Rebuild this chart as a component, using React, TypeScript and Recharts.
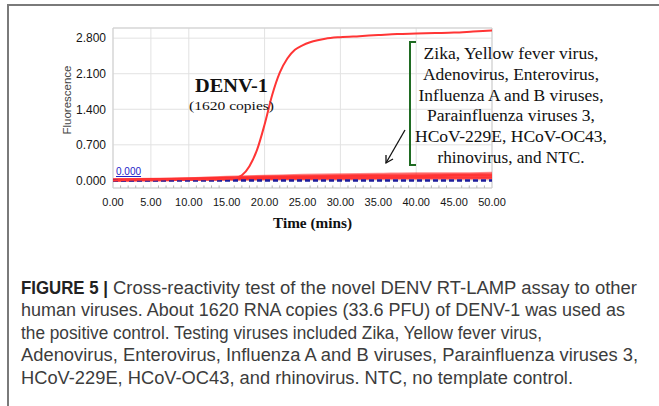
import { LineChart, Line, XAxis, YAxis, CartesianGrid, ReferenceArea, ReferenceLine } from 'recharts';

// DENV-1 positive control (1620 copies)
const denvTimes = [0, 2.5, 5, 7.5, 10, 12.5, 15, 16, 17, 18, 19, 20, 21, 22, 23, 24, 25, 26, 27, 28, 30, 32.5, 35, 37.5, 40, 42.5, 45, 47.5, 50];
const denvValues = [0.0, 0.01, 0.01, 0.02, 0.02, 0.02, 0.03, 0.04, 0.1, 0.28, 0.6, 1.1, 1.68, 2.12, 2.4, 2.57, 2.66, 2.72, 2.76, 2.79, 2.82, 2.84, 2.86, 2.88, 2.89, 2.9, 2.91, 2.93, 2.95];

// negative samples (other viruses + NTC)
const negTimes = [0, 5, 10, 15, 20, 25, 30, 35, 40, 45, 50];
const negZika = [0.0, 0.01, 0.02, 0.03, 0.04, 0.05, 0.05, 0.06, 0.06, 0.07, 0.07];
const negYellowFever = [0.01, 0.02, 0.03, 0.05, 0.06, 0.07, 0.08, 0.09, 0.09, 0.1, 0.1];
const negAdeno = [0.02, 0.03, 0.04, 0.06, 0.08, 0.09, 0.1, 0.11, 0.12, 0.12, 0.13];
const negEntero = [0.0, 0.0, 0.01, 0.02, 0.03, 0.03, 0.04, 0.04, 0.05, 0.05, 0.05];
const negFluA = [0.01, 0.02, 0.04, 0.07, 0.09, 0.11, 0.12, 0.13, 0.14, 0.14, 0.15];
const negFluB = [0.0, 0.01, 0.02, 0.04, 0.05, 0.06, 0.07, 0.08, 0.08, 0.09, 0.09];
const negParaflu3 = [0.01, 0.01, 0.02, 0.03, 0.04, 0.04, 0.05, 0.05, 0.06, 0.06, 0.06];
const neg229E = [0.02, 0.02, 0.03, 0.05, 0.07, 0.08, 0.09, 0.1, 0.1, 0.11, 0.11];
const negOC43 = [0.0, 0.01, 0.01, 0.02, 0.02, 0.03, 0.03, 0.04, 0.04, 0.04, 0.05];
const negRhino = [0.01, 0.02, 0.03, 0.04, 0.06, 0.07, 0.08, 0.08, 0.09, 0.1, 0.1];
const negNTC = [0.0, 0.0, 0.01, 0.01, 0.02, 0.02, 0.02, 0.03, 0.03, 0.03, 0.03];

const negatives = [negZika, negYellowFever, negAdeno, negEntero, negFluA, negFluB, negParaflu3, neg229E, negOC43, negRhino, negNTC];

const thresholdTimes = [0, 50];
const thresholdValues = [0, 0];

const xTicks = [0, 5, 10, 15, 20, 25, 30, 35, 40, 45, 50];
const yTicks = [0, 0.7, 1.4, 2.1, 2.8];
const minorTicks = [1, 2, 3, 4, 6, 7, 8, 9, 11, 12, 13, 14, 16, 17, 18, 19, 21, 22, 23, 24, 26, 27, 28, 29, 31, 32, 33, 34, 36, 37, 38, 39, 41, 42, 43, 44, 46, 47, 48, 49];

const noteLines = [
  'Zika, Yellow fever virus,',
  'Adenovirus, Enterovirus,',
  'Influenza A and B viruses,',
  'Parainfluenza viruses 3,',
  'HCoV-229E, HCoV-OC43,',
  'rhinovirus, and NTC.',
];
const noteWidths = [175, 176, 185, 168, 192, 147];

const captionLines = [
  'Cross-reactivity test of the novel DENV RT-LAMP assay to other',
  'human viruses. About 1620 RNA copies (33.6 PFU) of DENV-1 was used as',
  'the positive control. Testing viruses included Zika, Yellow fever virus,',
  'Adenovirus, Enterovirus, Influenza A and B viruses, Parainfluenza viruses 3,',
  'HCoV-229E, HCoV-OC43, and rhinovirus. NTC, no template control.',
];
const captionWidths = [524, 604, 521, 617, 552];

const toPoints = (times: number[], values: number[]) => times.map((t, i) => ({ t, v: values[i] }));

export default function App() {
  const denv = toPoints(denvTimes, denvValues);
  const threshold = toPoints(thresholdTimes, thresholdValues);
  const serif = '"Liberation Serif", "DejaVu Serif", serif';
  const sans = '"Liberation Sans", Arial, sans-serif';

  return (
    <div style={{ position: 'absolute', left: 0, top: 0, width: 659, height: 406, background: '#fff', overflow: 'hidden' }}>
      <LineChart width={659} height={240} margin={{ top: 28, right: 167, bottom: 22, left: 63 }}>
        <CartesianGrid stroke="#e2e2e2" vertical horizontal />
        <XAxis
          dataKey="t"
          type="number"
          domain={[0, 50]}
          ticks={xTicks}
          tickFormatter={(v: number) => v.toFixed(2)}
          axisLine={false}
          tickLine={false}
          tickSize={0}
          tickMargin={10}
          height={30}
          tick={{ fontSize: 11, fill: '#151515', fontFamily: sans }}
          allowDuplicatedCategory={false}
        />
        <YAxis
          type="number"
          domain={[-0.15, 3.0]}
          ticks={yTicks}
          tickFormatter={(v: number) => v.toFixed(3)}
          axisLine={false}
          tickLine={false}
          tickSize={0}
          tickMargin={7}
          width={50}
          tick={{ fontSize: 12, fill: '#151515', fontFamily: sans }}
        />
        <ReferenceArea x1={0} x2={50} y1={-0.15} y2={3.0} stroke="#cfcfcf" fill="none" strokeWidth={1} />
        {minorTicks.map((m) => (
          <ReferenceLine key={m} segment={[{ x: m, y: -0.15 }, { x: m, y: -0.1 }]} stroke="#b8b8b8" />
        ))}
        {negatives.map((vals, i) => (
          <Line
            key={i}
            data={toPoints(negTimes, vals)}
            dataKey="v"
            type="monotone"
            stroke="#ff2b2b"
            strokeOpacity={0.55}
            strokeWidth={2}
            dot={false}
            isAnimationActive={false}
          />
        ))}
        <Line data={threshold} dataKey="v" type="linear" stroke="#1d1d9c" strokeWidth={2.5} strokeDasharray="5 3" dot={false} isAnimationActive={false} />
        <Line data={denv} dataKey="v" type="monotone" stroke="#ff3535" strokeWidth={2} dot={false} isAnimationActive={false} />
      </LineChart>

      <svg width={659} height={406} style={{ position: 'absolute', left: 0, top: 0, pointerEvents: 'none' }}>
        {/* frame */}
        <line x1={7} y1={5} x2={659} y2={5} stroke="#7a7a7a" strokeWidth={2} />
        <line x1={8} y1={4} x2={8} y2={406} stroke="#7a7a7a" strokeWidth={2} />

        {/* axis titles */}
        <text x={67} y={100} transform="rotate(-90 67 100)" textAnchor="middle" dominantBaseline="central" fontFamily={sans} fontSize={11.5} fill="#444">
          Fluorescence
        </text>
        <text x={273} y={228} fontFamily={serif} fontWeight="bold" fontSize={14} fill="#111" textLength={79} lengthAdjust="spacingAndGlyphs">
          Time (mins)
        </text>

        {/* threshold label */}
        <text x={116} y={175} fontFamily={sans} fontSize={10} fill="#2323c8" textDecoration="underline">0.000</text>

        {/* DENV-1 annotation */}
        <text x={195} y={92} fontFamily={serif} fontWeight="bold" fontSize={18} fill="#111" textLength={73} lengthAdjust="spacingAndGlyphs">DENV-1</text>
        <text x={189} y={110} fontFamily={serif} fontSize={12.5} fill="#111" textLength={85} lengthAdjust="spacingAndGlyphs">(1620 copies)</text>

        {/* bracket + arrow */}
        <polyline points="416,42 410,42 410,165 416,165" fill="none" stroke="#1f6b22" strokeWidth={2} />
        <line x1={405} y1={130} x2={386} y2={163} stroke="#111" strokeWidth={1.3} />
        <polyline points="386,155 386,163 393,159" fill="none" stroke="#111" strokeWidth={1.3} />

        {noteLines.map((s, i) => (
          <text key={s} x={511} y={59.3 + i * 20.7} textAnchor="middle" fontFamily={serif} fontSize={16} fill="#111" textLength={noteWidths[i]} lengthAdjust="spacingAndGlyphs">
            {s}
          </text>
        ))}

        {/* caption */}
        <text x={21} y={294} fontFamily={sans} fontWeight="bold" fontSize={18} fill="#222" textLength={87} lengthAdjust="spacingAndGlyphs">
          FIGURE 5 |
        </text>
        {captionLines.map((s, i) => (
          <text key={i} x={i === 0 ? 113 : 21} y={294 + i * 22.4} fontFamily={sans} fontSize={17.5} fill="#3c3c3c" textLength={captionWidths[i]} lengthAdjust="spacingAndGlyphs">
            {s}
          </text>
        ))}
      </svg>
    </div>
  );
}
